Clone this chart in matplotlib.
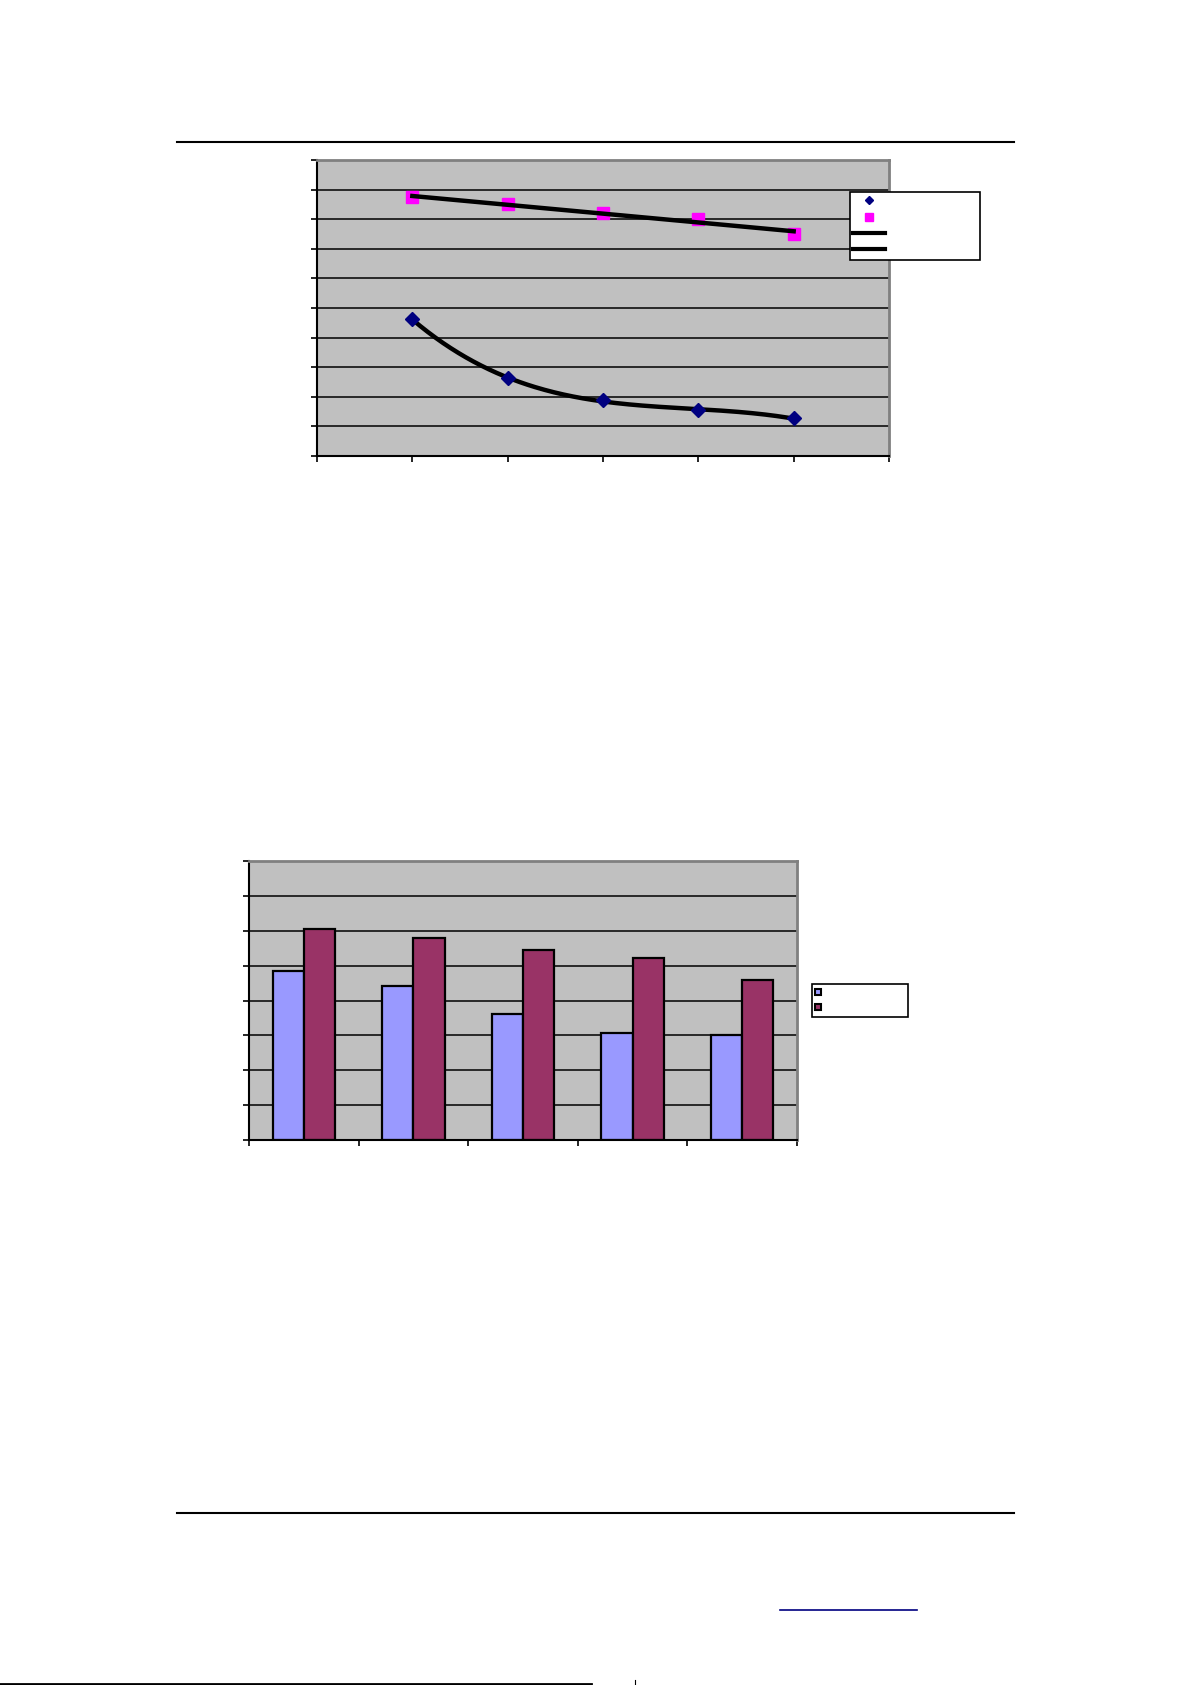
import numpy as np
import matplotlib
matplotlib.use("Agg")
import matplotlib.pyplot as plt
from matplotlib.lines import Line2D

W, H = 1191, 1685

# top chart: two measured series at x = 1..5
x_pts = [1, 2, 3, 4, 5]
series_a = [4.62, 2.62, 1.89, 1.55, 1.27]   # navy diamonds
series_b = [8.74, 8.50, 8.20, 8.00, 7.50]   # magenta squares

# bottom chart: two bar series over five groups
groups = [0, 1, 2, 3, 4]
bars_1 = [4.85, 4.43, 3.60, 3.08, 3.01]
bars_2 = [6.05, 5.80, 5.45, 5.21, 4.60]

GRAY = "#c0c0c0"

fig = plt.figure(figsize=(W / 100, H / 100), dpi=100)
fig.patch.set_facecolor("white")


def px_axes(left, top, right, bottom):
    return fig.add_axes([left / W, 1 - bottom / H, (right - left) / W, (bottom - top) / H])


def style_axes(ax):
    ax.set_facecolor(GRAY)
    ax.spines["top"].set_color("#808080")
    ax.spines["right"].set_color("#808080")
    ax.spines["top"].set_linewidth(2)
    ax.spines["right"].set_linewidth(2)
    ax.spines["left"].set_linewidth(1.5)
    ax.spines["bottom"].set_linewidth(1.5)
    ax.tick_params(direction="out", length=4, width=1.2, colors="black",
                   labelleft=False, labelbottom=False)
    ax.set_axisbelow(True)


# ---- top chart ----
ax1 = px_axes(317, 160, 889, 456)
style_axes(ax1)
ax1.set_xlim(0, 6)
ax1.set_ylim(0, 10)
ax1.set_xticks(range(0, 7))
ax1.set_yticks(range(0, 11))
ax1.yaxis.grid(True, color="black", linewidth=1.1)

xs = np.linspace(1, 5, 200)
fit_a = np.polyval(np.polyfit(x_pts, series_a, 3), xs)
fit_b = np.polyval(np.polyfit(x_pts, series_b, 1), xs)

ax1.plot(xs, fit_a, color="black", linewidth=3.2, zorder=3)
ax1.plot(xs, fit_b, color="black", linewidth=3.2, zorder=3)
ax1.plot(x_pts, series_a, linestyle="none", marker="D", markersize=7,
         color="#000080", markeredgecolor="#000080", zorder=4)
ax1.plot(x_pts, series_b, linestyle="none", marker="s", markersize=8.5,
         color="#ff00ff", markeredgecolor="#ff00ff", zorder=2)

h1 = [
    Line2D([], [], linestyle="none", marker="D", markersize=4.5, color="#000080"),
    Line2D([], [], linestyle="none", marker="s", markersize=5.5, color="#ff00ff"),
    Line2D([], [], color="black", linewidth=3),
    Line2D([], [], color="black", linewidth=3),
]
leg1 = fig.legend(h1, [" " * 22] * 4, loc="upper left",
                  bbox_to_anchor=(850 / W, 1 - 192 / H), borderaxespad=0,
                  fancybox=False, framealpha=1, edgecolor="black",
                  fontsize=9, handlelength=2.6, handletextpad=0.3,
                  labelspacing=0.27, borderpad=0.22)
leg1.get_frame().set_linewidth(1.2)

# ---- bottom chart ----
ax2 = px_axes(249, 861, 797, 1140)
style_axes(ax2)
ax2.set_xlim(-0.5, 4.5)
ax2.set_ylim(0, 8)
ax2.set_xticks(np.arange(-0.5, 5, 1))
ax2.set_yticks(range(0, 9))
ax2.yaxis.grid(True, color="black", linewidth=1.1)

bw = 0.285
gx = np.array(groups)
ax2.bar(gx - bw / 2, bars_1, width=bw, color="#9999ff", edgecolor="black", linewidth=1.6)
ax2.bar(gx + bw / 2, bars_2, width=bw, color="#993366", edgecolor="black", linewidth=1.6)

h2 = [
    Line2D([], [], linestyle="none", marker="s", markersize=5, color="#9999ff",
           markeredgecolor="black", markeredgewidth=1.5),
    Line2D([], [], linestyle="none", marker="s", markersize=5, color="#993366",
           markeredgecolor="black", markeredgewidth=1.5),
]
leg2 = fig.legend(h2, [" " * 20] * 2, loc="upper left",
                  bbox_to_anchor=(812 / W, 1 - 984 / H), borderaxespad=0,
                  fancybox=False, framealpha=1, edgecolor="black",
                  fontsize=9, handlelength=0.6, handletextpad=0.3,
                  labelspacing=0.2, borderpad=0.18)
leg2.get_frame().set_linewidth(1.2)

# ---- page rules ----
def hline(x0, x1, y, color="black", lw=1.5):
    fig.add_artist(Line2D([x0 / W, x1 / W], [1 - y / H, 1 - y / H], color=color, linewidth=lw))

hline(177, 1014, 142)
hline(177, 1014, 1513)
hline(780, 917, 1610, color="#000080", lw=1.2)
hline(0, 591, 1684, lw=2)
fig.add_artist(Line2D([635 / W, 635 / W], [1 - 1684 / H, 1 - 1680 / H], color="black", linewidth=0.8))

fig.savefig("out.png", dpi=100)
